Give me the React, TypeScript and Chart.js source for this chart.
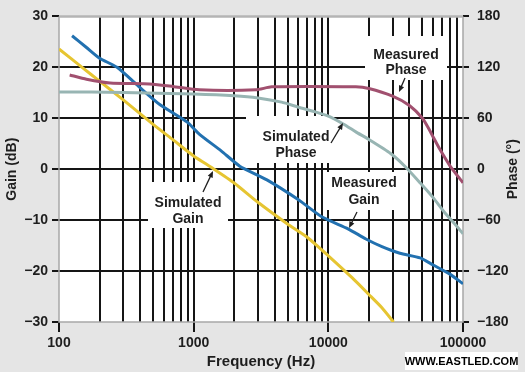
import React, { useEffect, useRef } from 'react';
import { Chart, registerables } from 'chart.js';

Chart.register(...registerables);

// ---- data ----
const freqSimGain = [100, 150, 200, 300, 500, 700, 1000, 1400, 2000, 3000, 5000, 7000, 10000, 15000, 20000, 25000, 30500];
const simGain = [23.6, 19.9, 17.3, 13.6, 8.8, 5.8, 2.6, 0.1, -2.7, -6.5, -10.8, -13.4, -17.0, -21.3, -24.6, -27.2, -30.0];

const freqMeasGain = [125, 160, 200, 270, 400, 560, 900, 1100, 1600, 2200, 3500, 6000, 9000, 14000, 19000, 25000, 34000, 48000, 60000, 80000, 100000];
const measGain = [26.2, 23.9, 21.8, 20.0, 16.0, 12.7, 9.2, 6.9, 3.6, 0.6, -2.1, -6.0, -9.4, -11.7, -13.7, -15.2, -16.5, -17.4, -18.8, -20.6, -22.5];

const freqMeasPhase = [120, 160, 240, 470, 700, 1100, 2900, 3800, 16000, 20000, 30000, 40000, 50000, 56000, 60000, 67000, 80000, 100000];
const measPhase = [111, 106, 101.5, 100.4, 97.5, 93.5, 93.5, 97, 97, 95, 86, 75, 60, 47, 38, 24, 4, -16];

const freqSimPhase = [100, 300, 1000, 2000, 3000, 4500, 6000, 8000, 10000, 13000, 16000, 20000, 29000, 37000, 48000, 60000, 73000, 87000, 100000];
const simPhase = [91, 90.5, 88.5, 86.5, 84, 79, 73, 67.5, 62.5, 53, 44, 35, 18.5, 3.5, -16, -33.5, -51, -64.6, -76];

const xTickValues = [
  100, 200, 300, 400, 500, 600, 700, 800, 900,
  1000, 2000, 3000, 4000, 5000, 6000, 7000, 8000, 9000,
  10000, 20000, 30000, 40000, 50000, 60000, 70000, 80000, 90000,
  100000,
];
const xLabelValues = [100, 1000, 10000, 100000];

const FONT = '"Liberation Sans", Arial, Helvetica, sans-serif';
const TXT = '#1e1e1e';
const GRID = '#151515';
const BG = '#e5e5e5';

const pts = (xs: number[], ys: number[]) => xs.map((x, i) => ({ x, y: ys[i] }));
const fmt = (v: number) => (v < 0 ? '\u2212' + Math.abs(v) : String(v));

const annotations = [
  { lines: ['Measured', 'Phase'], box: [365, 36, 447, 80], cx: 406, cy: [55, 70], arrow: [405, 78, 399, 92] },
  { lines: ['Simulated', 'Phase'], box: [246, 116, 334, 163], cx: 296, cy: [137, 153], arrow: [331, 143, 343, 123] },
  { lines: ['Measured', 'Gain'], box: [326, 172, 402, 210], cx: 364, cy: [183, 200], arrow: [357, 212, 349, 228] },
  { lines: ['Simulated', 'Gain'], box: [148, 182, 228, 228], cx: 188, cy: [203, 219], arrow: [203, 192, 213, 171] },
];

const decorPlugin = {
  id: 'decor',
  beforeDraw(chart: any) {
    const { ctx, chartArea: a } = chart;
    ctx.save();
    ctx.fillStyle = BG;
    ctx.fillRect(0, 0, chart.width, chart.height);
    ctx.fillStyle = '#ffffff';
    ctx.fillRect(a.left, a.top, a.right - a.left, a.bottom - a.top);
    ctx.restore();
  },
  beforeDatasetsDraw(chart: any) {
    const { ctx, chartArea: a } = chart;
    ctx.save();
    // plot border
    ctx.strokeStyle = '#a8a8a8';
    ctx.lineWidth = 1.5;
    ctx.beginPath();
    ctx.moveTo(a.left, a.top);
    ctx.lineTo(a.left, a.bottom);
    ctx.lineTo(a.right, a.bottom);
    ctx.lineTo(a.right, a.top);
    ctx.stroke();
    ctx.strokeStyle = '#b4b4b4';
    ctx.lineWidth = 2.5;
    ctx.beginPath();
    ctx.moveTo(a.left, a.top);
    ctx.lineTo(a.right, a.top);
    ctx.stroke();
    // label boxes
    ctx.fillStyle = '#ffffff';
    annotations.forEach((an) => {
      const [x1, y1, x2, y2] = an.box;
      ctx.fillRect(x1, y1, x2 - x1, y2 - y1);
    });
    ctx.restore();
  },
  afterDatasetsDraw(chart: any) {
    const { ctx } = chart;
    ctx.save();
    ctx.fillStyle = TXT;
    ctx.font = `bold 14px ${FONT}`;
    ctx.textAlign = 'center';
    ctx.textBaseline = 'middle';
    annotations.forEach((an) => {
      an.lines.forEach((t, i) => ctx.fillText(t, an.cx, an.cy[i]));
      const [x1, y1, x2, y2] = an.arrow;
      const ang = Math.atan2(y2 - y1, x2 - x1);
      const hl = 7;
      ctx.strokeStyle = TXT;
      ctx.lineWidth = 1.3;
      ctx.beginPath();
      ctx.moveTo(x1, y1);
      ctx.lineTo(x2 - Math.cos(ang) * 4, y2 - Math.sin(ang) * 4);
      ctx.stroke();
      ctx.beginPath();
      ctx.moveTo(x2, y2);
      ctx.lineTo(x2 - hl * Math.cos(ang - 0.4), y2 - hl * Math.sin(ang - 0.4));
      ctx.lineTo(x2 - hl * Math.cos(ang + 0.4), y2 - hl * Math.sin(ang + 0.4));
      ctx.closePath();
      ctx.fill();
    });
    // right axis title (reads bottom-to-top)
    const a = chart.chartArea;
    ctx.save();
    ctx.translate(513, (a.top + a.bottom) / 2);
    ctx.rotate(-Math.PI / 2);
    ctx.font = `bold 14px ${FONT}`;
    ctx.fillText('Phase (\u00b0)', 0, 0);
    ctx.restore();
    // watermark
    ctx.fillStyle = '#ffffff';
    ctx.fillRect(405, 352, 113, 18);
    ctx.fillStyle = '#000000';
    ctx.font = `bold 11px ${FONT}`;
    ctx.fillText('WWW.EASTLED.COM', 461.5, 361.5);
    ctx.restore();
  },
};

export default function App() {
  const ref = useRef<HTMLCanvasElement | null>(null);

  useEffect(() => {
    if (!ref.current) return;
    const chart = new Chart(ref.current, {
      type: 'line',
      data: {
        datasets: [
          { label: 'Simulated Phase', data: pts(freqSimPhase, simPhase), yAxisID: 'y1', borderColor: '#98b5b3', borderWidth: 3 },
          { label: 'Measured Phase', data: pts(freqMeasPhase, measPhase), yAxisID: 'y1', borderColor: '#a1506f', borderWidth: 3 },
          { label: 'Simulated Gain', data: pts(freqSimGain, simGain), yAxisID: 'y', borderColor: '#e6c532', borderWidth: 3 },
          { label: 'Measured Gain', data: pts(freqMeasGain, measGain), yAxisID: 'y', borderColor: '#2271b0', borderWidth: 3 },
        ],
      },
      options: {
        responsive: false,
        animation: false,
        events: [],
        layout: { padding: { top: 10, left: 0, right: 0, bottom: 0 } },
        elements: { point: { radius: 0 }, line: { tension: 0.2, fill: false } },
        plugins: { legend: { display: false }, tooltip: { enabled: false } },
        scales: {
          x: {
            type: 'logarithmic',
            min: 100,
            max: 100000,
            afterBuildTicks: (scale: any) => {
              scale.ticks = xTickValues.map((v) => ({ value: v }));
            },
            afterFit: (scale: any) => {
              scale.height = 50;
            },
            border: { display: false },
            grid: {
              lineWidth: 2,
              color: (c: any) => (c.tick && (c.tick.value === 100 || c.tick.value === 100000) ? 'rgba(0,0,0,0)' : GRID),
              tickColor: (c: any) => (c.tick && xLabelValues.includes(c.tick.value) ? GRID : 'rgba(0,0,0,0)'),
              tickLength: 10,
              tickWidth: 2,
            },
            ticks: {
              autoSkip: false,
              maxRotation: 0,
              minRotation: 0,
              padding: 3,
              color: TXT,
              font: { family: FONT, size: 14, weight: 'bold' },
              callback: (v: any) => (xLabelValues.includes(Number(v)) ? String(v) : ''),
            },
            title: {
              display: true,
              text: 'Frequency (Hz)',
              color: TXT,
              font: { family: FONT, size: 15, weight: 'bold' },
              padding: { top: 0, bottom: 1 },
            },
          },
          y: {
            position: 'left',
            min: -30,
            max: 30,
            afterFit: (scale: any) => {
              scale.width = 59;
            },
            border: { display: false },
            grid: {
              lineWidth: 2,
              color: (c: any) => (c.tick && Math.abs(c.tick.value) === 30 ? 'rgba(0,0,0,0)' : GRID),
              tickColor: GRID,
              tickLength: 7,
              tickWidth: 2,
            },
            ticks: {
              stepSize: 10,
              padding: 4,
              color: TXT,
              font: { family: FONT, size: 14, weight: 'bold' },
              callback: (v: any) => fmt(Number(v)),
            },
            title: {
              display: true,
              text: 'Gain (dB)',
              color: TXT,
              font: { family: FONT, size: 14, weight: 'bold' },
              padding: { top: 4, bottom: 4 },
            },
          },
          y1: {
            position: 'right',
            min: -180,
            max: 180,
            afterFit: (scale: any) => {
              scale.width = 62;
            },
            border: { display: false },
            grid: {
              drawOnChartArea: false,
              lineWidth: 2,
              color: GRID,
              tickColor: GRID,
              tickLength: 6,
              tickWidth: 2,
            },
            ticks: {
              stepSize: 60,
              padding: 8,
              color: TXT,
              font: { family: FONT, size: 14, weight: 'bold' },
              callback: (v: any) => fmt(Number(v)),
            },
          },
        },
      } as any,
      plugins: [decorPlugin],
    });
    return () => chart.destroy();
  }, []);

  return (
    <div style={{ position: 'fixed', left: 0, top: 0, width: 525, height: 372, background: BG }}>
      <canvas ref={ref} width={525} height={372} style={{ display: 'block' }} />
    </div>
  );
}
